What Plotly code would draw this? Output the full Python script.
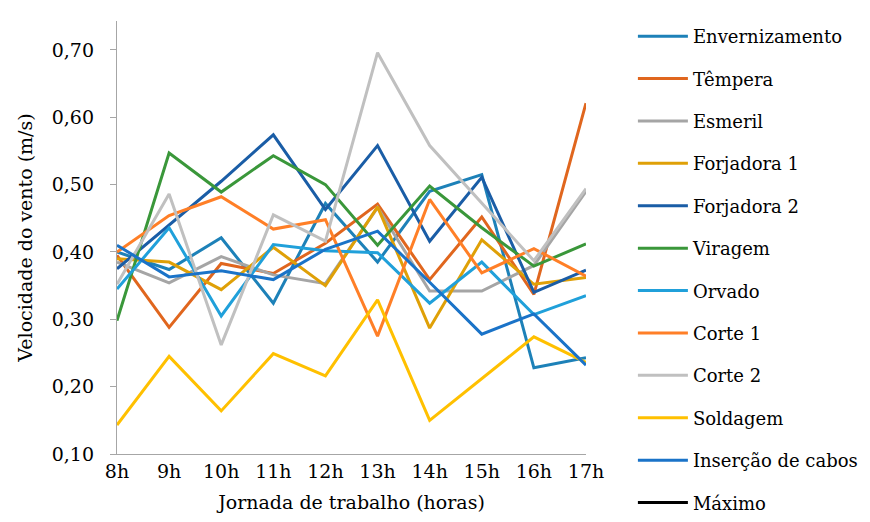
import plotly.graph_objects as go

hours = ["8h", "9h", "10h", "11h", "12h", "13h", "14h", "15h", "16h", "17h"]

envernizamento = [0.400, 0.374, 0.421, 0.324, 0.472, 0.385, 0.490, 0.515, 0.228, 0.243]
tempera        = [0.395, 0.288, 0.383, 0.368, 0.413, 0.471, 0.359, 0.452, 0.337, 0.621]
esmeril        = [0.385, 0.354, 0.393, 0.366, 0.353, 0.466, 0.342, 0.342, 0.380, 0.490]
forjadora1     = [0.390, 0.385, 0.344, 0.407, 0.350, 0.467, 0.287, 0.418, 0.352, 0.362]
forjadora2     = [0.375, 0.440, 0.505, 0.574, 0.463, 0.558, 0.416, 0.511, 0.340, 0.373]
viragem        = [0.298, 0.547, 0.489, 0.543, 0.500, 0.410, 0.498, 0.436, 0.379, 0.412]
orvado         = [0.345, 0.436, 0.305, 0.411, 0.402, 0.399, 0.324, 0.385, 0.307, 0.335]
corte1         = [0.400, 0.454, 0.482, 0.434, 0.448, 0.275, 0.478, 0.369, 0.405, 0.364]
corte2         = [0.352, 0.486, 0.262, 0.455, 0.416, 0.696, 0.558, 0.472, 0.387, 0.494]
soldagem       = [0.143, 0.245, 0.164, 0.249, 0.216, 0.329, 0.150, 0.212, 0.274, 0.236]
insercao       = [0.410, 0.363, 0.372, 0.359, 0.404, 0.431, 0.355, 0.278, 0.308, 0.232]
maximo         = [None] * 10

names = ["Envernizamento", "Têmpera", "Esmeril", "Forjadora 1", "Forjadora 2", "Viragem",
         "Orvado", "Corte 1", "Corte 2", "Soldagem", "Inserção de cabos", "Máximo"]
series = [envernizamento, tempera, esmeril, forjadora1, forjadora2, viragem,
          orvado, corte1, corte2, soldagem, insercao, maximo]
colors = ["#1D81B8", "#E0661E", "#A5A5A5", "#DFA007", "#1A5DA6", "#3A973A",
          "#20A0DA", "#FF7F27", "#C0C0C0", "#FFC000", "#1A73C8", "#000000"]

FONT = "DejaVu Serif"

fig = go.Figure()
for i, (n, s, c) in enumerate(zip(names, series, colors)):
    fig.add_trace(go.Scatter(x=hours, y=s, name=n, mode="lines",
                             line=dict(color=c, width=3),
                             legendgroup=f"g{i}"))

fig.update_layout(
    template="none",
    width=870, height=522,
    margin=dict(l=109, r=292, t=13, b=76, autoexpand=False),
    paper_bgcolor="white", plot_bgcolor="white",
    separators=",.",
    font=dict(family=FONT, size=19, color="#000000"),
    showlegend=True,
    legend=dict(x=1.10, y=1.007, xanchor="left", yanchor="top",
                maxheight=520,
                font=dict(family=FONT, size=18, color="#000000"),
                traceorder="grouped", tracegroupgap=16, itemwidth=50,
                bgcolor="rgba(0,0,0,0)"),
    xaxis=dict(type="category", range=[0, 9], showgrid=False, zeroline=False,
               showline=True, linecolor="#A6A6A6", linewidth=1.3,
               ticks="", tickfont=dict(family=FONT, size=19), automargin=False,
               title=dict(text="Jornada de trabalho (horas)", font=dict(family=FONT, size=19),
                          standoff=14)),
    yaxis=dict(range=[0.1, 0.743], dtick=0.1, tick0=0.1, tickformat=".2f",
               showgrid=False, zeroline=False, showline=True, linecolor="#A6A6A6",
               linewidth=1.3, ticks="outside", ticklen=6, tickcolor="#A6A6A6",
               ticklabelstandoff=12,
               tickfont=dict(family=FONT, size=19), automargin=False,
               title=dict(text="Velocidade do vento (m/s)", font=dict(family=FONT, size=19),
                          standoff=14)),
)

fig.write_html("out.html")
